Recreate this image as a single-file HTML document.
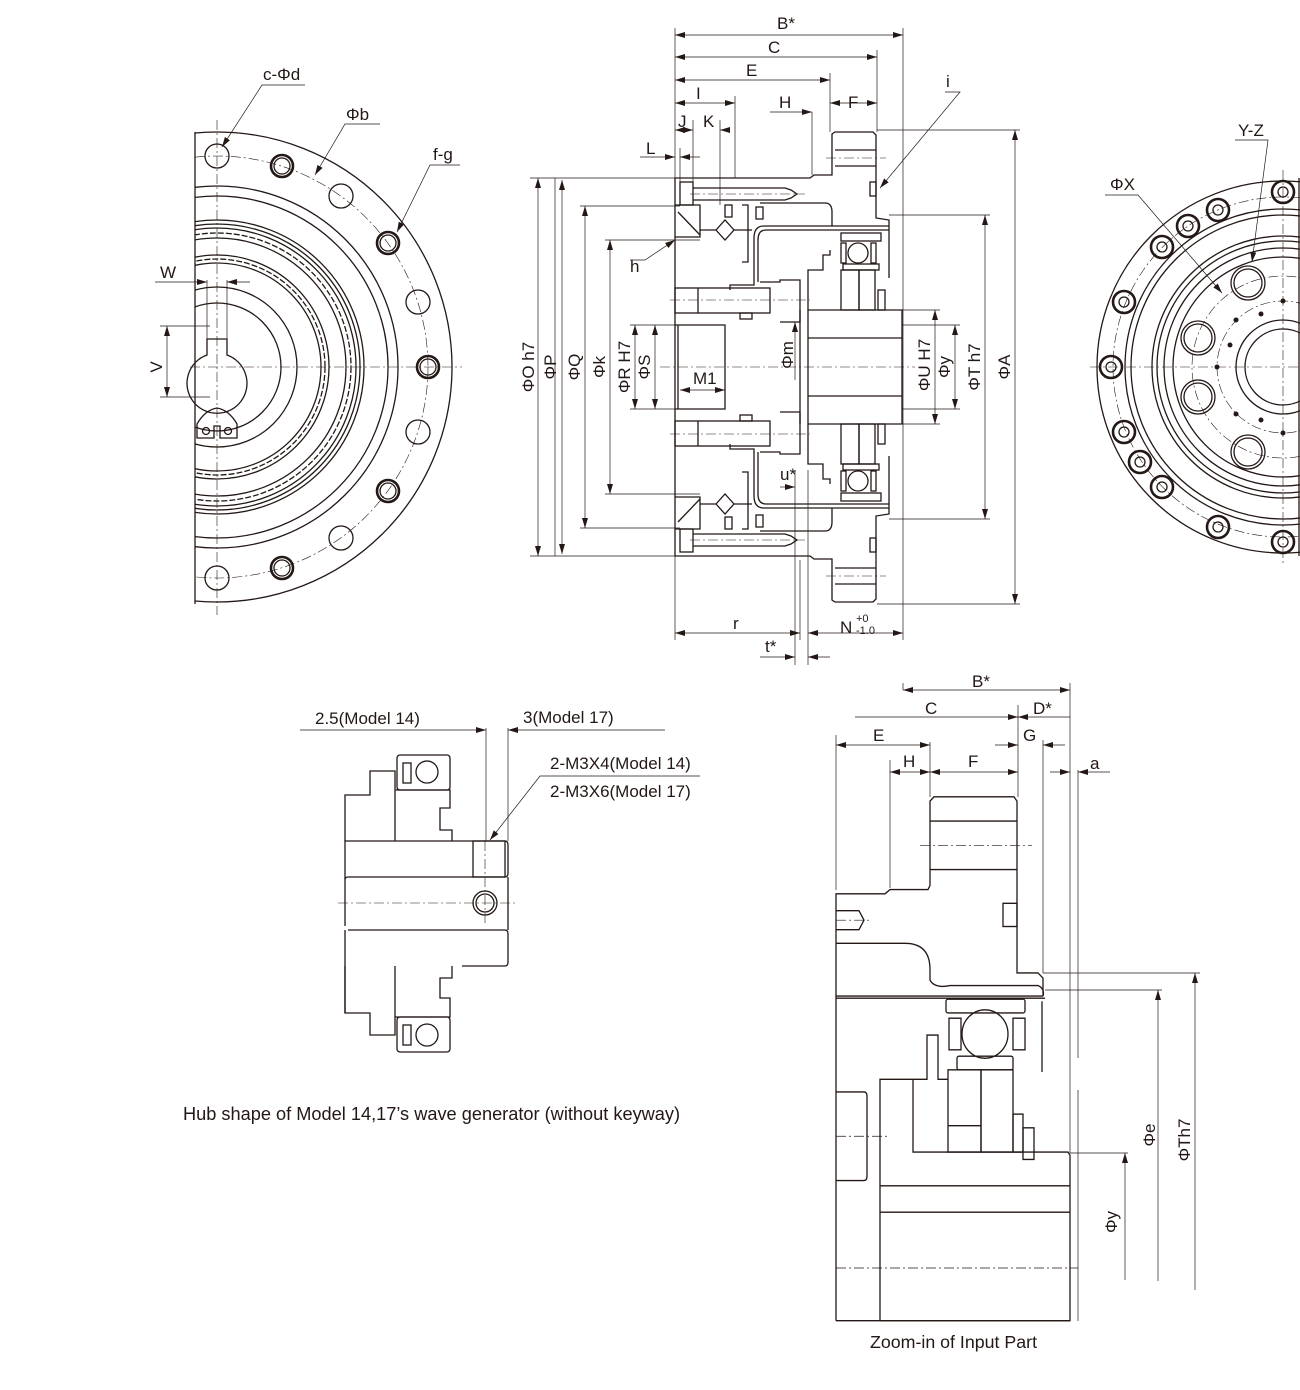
<!DOCTYPE html>
<html><head><meta charset="utf-8"><style>
html,body{margin:0;padding:0;background:#fff;}
svg{display:block;}
text{font-family:"Liberation Sans",sans-serif;font-size:17px;fill:#231815;}
.l{fill:none;stroke:#231815;stroke-width:1.3;}
.t{fill:none;stroke:#231815;stroke-width:2.6;}
.d{fill:none;stroke:#231815;stroke-width:0.7;}
.c{fill:none;stroke:#231815;stroke-width:0.6;stroke-dasharray:10 3 2 3;}
</style></head><body>
<svg width="1300" height="1390" viewBox="0 0 1300 1390" xmlns="http://www.w3.org/2000/svg">
<defs>
<marker id="a" viewBox="0 0 10 6" refX="10" refY="3" markerWidth="10" markerHeight="6" orient="auto-start-reverse" markerUnits="userSpaceOnUse"><path d="M0,0 L10,3 L0,6 z" fill="#231815"/></marker>
<clipPath id="cl"><rect x="195" y="100" width="300" height="540"/></clipPath>
<clipPath id="cr"><rect x="1080" y="100" width="220" height="540"/></clipPath>
</defs>

<!-- ============ LEFT VIEW ============ -->
<g clip-path="url(#cl)">
<circle class="l" cx="217" cy="367" r="235"/>
<circle class="c" cx="217" cy="367" r="211"/>
<circle class="l" cx="217" cy="367" r="181"/>
<circle class="l" cx="217" cy="367" r="171"/>
<circle class="l" cx="217" cy="367" r="147"/>
<circle class="l" cx="217" cy="367" r="143"/>
<circle class="l" cx="217" cy="367" r="139"/>
<circle class="l" cx="217" cy="367" r="134" stroke-dasharray="6 2"/>
<circle class="l" cx="217" cy="367" r="129"/>
<circle class="l" cx="217" cy="367" r="112"/>
<circle class="l" cx="217" cy="367" r="108" stroke-dasharray="6 2"/>
<circle class="l" cx="217" cy="367" r="104"/>
<circle class="l" cx="217" cy="367" r="80"/>
<circle class="l" cx="217" cy="367" r="64"/>
</g>
<line class="l" x1="195" y1="132" x2="195" y2="604"/>
<g>
<circle class="l" cx="217" cy="156" r="12"/>
<circle class="t" cx="282" cy="166" r="11"/><circle class="l" cx="282" cy="166" r="8"/>
<circle class="l" cx="341" cy="196" r="12"/>
<circle class="t" cx="388" cy="243" r="11"/><circle class="l" cx="388" cy="243" r="8"/>
<circle class="l" cx="418" cy="302" r="12"/>
<circle class="t" cx="428" cy="367" r="11"/><circle class="l" cx="428" cy="367" r="8"/>
<circle class="l" cx="418" cy="432" r="12"/>
<circle class="t" cx="388" cy="491" r="11"/><circle class="l" cx="388" cy="491" r="8"/>
<circle class="l" cx="341" cy="538" r="12"/>
<circle class="t" cx="282" cy="568" r="11"/><circle class="l" cx="282" cy="568" r="8"/>
<circle class="l" cx="217" cy="578" r="12"/>
</g>
<path class="l" d="M227,355 L227,339 L207,339 L207,355 A30,30 0 1 0 227,355 Z" fill="#fff"/>
<path class="l" d="M197,424 Q205,410 217,408 Q229,410 237,424 L237,438 L220,438 L220,426 L214,426 L214,438 L197,438 Z"/>
<circle class="l" cx="206" cy="431" r="3.5"/><circle class="l" cx="228" cy="431" r="3.5"/>
<line class="c" x1="217" y1="120" x2="217" y2="615"/>
<line class="c" x1="190" y1="367" x2="462" y2="367"/>
<line class="d" x1="207" y1="280" x2="207" y2="339"/><line class="d" x1="227" y1="280" x2="227" y2="339"/>
<line class="d" x1="155" y1="282" x2="207" y2="282" marker-end="url(#a)"/><line class="d" x1="250" y1="282" x2="227" y2="282" marker-end="url(#a)"/>
<text x="160" y="278">W</text>
<line class="d" x1="160" y1="326" x2="210" y2="326"/><line class="d" x1="160" y1="397" x2="210" y2="397"/>
<line class="d" x1="167" y1="326" x2="167" y2="397" marker-start="url(#a)" marker-end="url(#a)"/>
<text transform="translate(162,367) rotate(-90)" text-anchor="middle">V</text>
<polyline class="d" points="305,85 262,85 222,147" marker-end="url(#a)"/><text x="263" y="80">c-Φd</text>
<polyline class="d" points="380,124 345,124 315,175" marker-end="url(#a)"/><text x="346" y="120">Φb</text>
<polyline class="d" points="460,165 430,165 397,232" marker-end="url(#a)"/><text x="433" y="160">f-g</text>

<!-- ============ RIGHT VIEW ============ -->
<g clip-path="url(#cr)">
<circle class="l" cx="1283" cy="367" r="186"/>
<circle class="c" cx="1283" cy="367" r="170"/>
<circle class="l" cx="1283" cy="367" r="158"/>
<circle class="l" cx="1283" cy="367" r="152"/>
<circle class="l" cx="1283" cy="367" r="131"/>
<circle class="l" cx="1283" cy="367" r="126"/>
<circle class="l" cx="1283" cy="367" r="119"/>
<circle class="l" cx="1283" cy="367" r="110"/>
<circle class="c" cx="1283" cy="367" r="91"/>
<circle class="c" cx="1283" cy="367" r="66"/>
<circle class="l" cx="1283" cy="367" r="47"/>
<circle class="l" cx="1283" cy="367" r="38"/>
</g>
<line class="l" x1="1299" y1="178" x2="1299" y2="556"/>
<g>
<circle class="t" cx="1283" cy="192" r="11"/><circle class="l" cx="1283" cy="192" r="5"/>
<circle class="t" cx="1218" cy="210" r="11"/><circle class="l" cx="1218" cy="210" r="5"/>
<circle class="t" cx="1188" cy="226" r="11"/><circle class="l" cx="1188" cy="226" r="5"/>
<circle class="t" cx="1162" cy="247" r="11"/><circle class="l" cx="1162" cy="247" r="5"/>
<circle class="t" cx="1124" cy="302" r="11"/><circle class="l" cx="1124" cy="302" r="5"/>
<circle class="t" cx="1111" cy="367" r="11"/><circle class="l" cx="1111" cy="367" r="5"/>
<circle class="t" cx="1124" cy="432" r="11"/><circle class="l" cx="1124" cy="432" r="5"/>
<circle class="t" cx="1140" cy="462" r="11"/><circle class="l" cx="1140" cy="462" r="5"/>
<circle class="t" cx="1162" cy="487" r="11"/><circle class="l" cx="1162" cy="487" r="5"/>
<circle class="t" cx="1218" cy="527" r="11"/><circle class="l" cx="1218" cy="527" r="5"/>
<circle class="t" cx="1283" cy="542" r="11"/><circle class="l" cx="1283" cy="542" r="5"/>
</g>
<g>
<circle class="l" cx="1248" cy="283" r="17"/><circle class="l" cx="1248" cy="283" r="14"/>
<circle class="l" cx="1198" cy="338" r="17"/><circle class="l" cx="1198" cy="338" r="14"/>
<circle class="l" cx="1198" cy="397" r="17"/><circle class="l" cx="1198" cy="397" r="14"/>
<circle class="l" cx="1248" cy="452" r="17"/><circle class="l" cx="1248" cy="452" r="14"/>
<circle cx="1283" cy="301" r="2.5" fill="#231815"/><circle cx="1261" cy="314" r="2.5" fill="#231815"/>
<circle cx="1236" cy="320" r="2.5" fill="#231815"/><circle cx="1230" cy="345" r="2.5" fill="#231815"/>
<circle cx="1217" cy="367" r="2.5" fill="#231815"/><circle cx="1236" cy="414" r="2.5" fill="#231815"/>
<circle cx="1261" cy="420" r="2.5" fill="#231815"/><circle cx="1283" cy="433" r="2.5" fill="#231815"/>
</g>
<line class="c" x1="1283" y1="170" x2="1283" y2="565"/>
<line class="c" x1="1090" y1="367" x2="1300" y2="367"/>
<polyline class="d" points="1235,140 1268,140 1252,262" marker-end="url(#a)"/><text x="1238" y="136">Y-Z</text>
<polyline class="d" points="1105,195 1138,195 1222,293" marker-end="url(#a)"/><text x="1110" y="190">ΦX</text>

<!-- ============ MIDDLE SECTION ============ -->
<g id="half">
<path class="l" d="M675,367 L675,178 L810,178 L814,175 L832,175 L832,134 L835,132 L873,132 L876,135 L876,218 L889,220 L889,228"/>
<line class="l" x1="835" y1="150" x2="876" y2="150"/>
<line class="l" x1="835" y1="166" x2="876" y2="166"/>
<line class="c" x1="826" y1="158" x2="886" y2="158"/>
<rect class="l" x="870" y="182" width="6" height="14"/>
<rect class="l" x="680" y="182" width="13" height="23"/>
<path class="l" d="M693,188 L785,188 L791,190 L797,194 L791,198 L785,200 L693,200"/>
<line class="c" x1="690" y1="194" x2="805" y2="194"/>
<path class="l" d="M675,205 L700,205 L700,237 L675,237"/>
<line class="l" x1="678" y1="212" x2="700" y2="235"/>
<path class="l" d="M716,230 L725,220 L734,230 L725,240 Z"/>
<path class="l" d="M700,230 L716,230 M734,230 L752,230"/>
<rect class="l" x="725" y="205" width="7" height="12"/><rect class="l" x="756" y="207" width="7" height="12"/>
<path class="l" d="M742,205 L748,205 L748,262 L742,262"/>
<path class="l" d="M760,203 L825,203 Q832,203 832,212 L832,226"/>
<path class="l" d="M889,226 L764,226 Q754,226 754,238 L754,285 L730,285 L730,290"/>
<path class="l" d="M889,230 L766,230 Q758,230 758,240 L758,282"/>
<path class="l" d="M760,282 L780,282 L780,280 L800,280 L800,322 L780,322"/>
<rect class="l" x="675" y="288" width="95" height="25"/>
<line class="l" x1="698" y1="288" x2="698" y2="313"/>
<line class="c" x1="670" y1="300" x2="810" y2="300"/>
<rect class="l" x="740" y="313" width="12" height="6"/>
<path class="l" d="M675,325 L725,325 L725,367"/>
<line class="l" x1="678" y1="325" x2="678" y2="367"/>
<path class="l" d="M808,367 L808,310 L902,310 L902,367"/>
<line class="l" x1="808" y1="338" x2="902" y2="338"/>
<path class="l" d="M808,310 L808,270 L823,270 L823,255 L830,255 L830,250"/>
<rect class="l" x="841" y="233" width="40" height="8"/>
<circle class="l" cx="858" cy="253" r="10"/>
<rect class="l" x="841" y="243" width="5" height="20"/><rect class="l" x="871" y="243" width="5" height="20"/>
<rect class="l" x="843" y="264" width="36" height="6"/>
<rect class="l" x="841" y="270" width="18" height="40"/>
<rect class="l" x="859" y="270" width="16" height="40"/>
<rect class="l" x="878" y="290" width="7" height="20"/>
<line class="l" x1="889" y1="228" x2="889" y2="278"/>
<line class="l" x1="800" y1="310" x2="800" y2="367"/>
</g>
<use href="#half" transform="translate(0,734) scale(1,-1)"/>
<line class="c" x1="660" y1="367" x2="915" y2="367"/>
<g class="d">
<line x1="675" y1="28" x2="675" y2="640"/>
<line x1="903" y1="28" x2="903" y2="640"/>
<line x1="877" y1="50" x2="877" y2="132"/>
<line x1="830" y1="73" x2="830" y2="132"/>
<line x1="735" y1="96" x2="735" y2="178"/>
<line x1="812" y1="112" x2="812" y2="175"/>
<line x1="693" y1="120" x2="693" y2="182"/>
<line x1="720" y1="120" x2="720" y2="205"/>
<line x1="680" y1="148" x2="680" y2="182"/>
<line x1="795" y1="470" x2="795" y2="665"/>
<line x1="808" y1="470" x2="808" y2="665"/>
<line x1="800" y1="560" x2="800" y2="640"/>
</g>
<g class="d">
<line x1="675" y1="35" x2="903" y2="35" marker-start="url(#a)" marker-end="url(#a)"/>
<line x1="675" y1="57" x2="877" y2="57" marker-start="url(#a)" marker-end="url(#a)"/>
<line x1="675" y1="80" x2="830" y2="80" marker-start="url(#a)" marker-end="url(#a)"/>
<line x1="675" y1="103" x2="735" y2="103" marker-start="url(#a)" marker-end="url(#a)"/>
<line x1="830" y1="103" x2="877" y2="103" marker-start="url(#a)" marker-end="url(#a)"/>
<line x1="770" y1="112" x2="812" y2="112" marker-end="url(#a)"/>
<line x1="675" y1="130" x2="693" y2="130" marker-start="url(#a)" marker-end="url(#a)"/>
<line x1="730" y1="130" x2="720" y2="130" marker-end="url(#a)"/>
<line x1="640" y1="157" x2="675" y2="157" marker-end="url(#a)"/>
<line x1="700" y1="157" x2="680" y2="157" marker-end="url(#a)"/>
<line x1="675" y1="633" x2="800" y2="633" marker-start="url(#a)" marker-end="url(#a)"/>
<line x1="808" y1="633" x2="903" y2="633" marker-start="url(#a)" marker-end="url(#a)"/>
<line x1="760" y1="657" x2="795" y2="657" marker-end="url(#a)"/>
<line x1="830" y1="657" x2="808" y2="657" marker-end="url(#a)"/>
<line x1="780" y1="487" x2="795" y2="487" marker-end="url(#a)"/>
<polyline points="945,92 960,92 880,188" marker-end="url(#a)"/>
<polyline points="630,260 645,260 675,240" marker-end="url(#a)"/>
<line x1="795" y1="322" x2="795" y2="380" marker-start="url(#a)"/>
</g>
<g class="d">
<line x1="530" y1="178" x2="675" y2="178"/><line x1="530" y1="556" x2="675" y2="556"/>
<line x1="538" y1="178" x2="538" y2="556" marker-start="url(#a)" marker-end="url(#a)"/>
<line x1="555" y1="178" x2="555" y2="556"/>
<line x1="562" y1="180" x2="562" y2="554" marker-start="url(#a)" marker-end="url(#a)"/>
<line x1="580" y1="206" x2="680" y2="206"/><line x1="580" y1="528" x2="680" y2="528"/>
<line x1="585" y1="206" x2="585" y2="528" marker-start="url(#a)" marker-end="url(#a)"/>
<line x1="605" y1="240" x2="700" y2="240"/><line x1="605" y1="494" x2="700" y2="494"/>
<line x1="610" y1="240" x2="610" y2="494" marker-start="url(#a)" marker-end="url(#a)"/>
<line x1="630" y1="325" x2="675" y2="325"/><line x1="630" y1="409" x2="675" y2="409"/>
<line x1="635" y1="325" x2="635" y2="409" marker-start="url(#a)" marker-end="url(#a)"/>
<line x1="655" y1="325" x2="655" y2="409" marker-start="url(#a)" marker-end="url(#a)"/>
<line x1="680" y1="390" x2="725" y2="390" marker-start="url(#a)" marker-end="url(#a)"/>
<line x1="902" y1="310" x2="940" y2="310"/><line x1="902" y1="424" x2="940" y2="424"/>
<line x1="935" y1="310" x2="935" y2="424" marker-start="url(#a)" marker-end="url(#a)"/>
<line x1="902" y1="325" x2="960" y2="325"/><line x1="902" y1="409" x2="960" y2="409"/>
<line x1="955" y1="325" x2="955" y2="409" marker-start="url(#a)" marker-end="url(#a)"/>
<line x1="889" y1="215" x2="990" y2="215"/><line x1="889" y1="519" x2="990" y2="519"/>
<line x1="985" y1="215" x2="985" y2="519" marker-start="url(#a)" marker-end="url(#a)"/>
<line x1="877" y1="130" x2="1020" y2="130"/><line x1="877" y1="604" x2="1020" y2="604"/>
<line x1="1015" y1="130" x2="1015" y2="604" marker-start="url(#a)" marker-end="url(#a)"/>
</g>
<text x="777" y="29">B*</text><text x="768" y="53">C</text><text x="746" y="76">E</text>
<text x="696" y="99">I</text><text x="779" y="108">H</text><text x="848" y="108">F</text>
<text x="678" y="127">J</text><text x="703" y="127">K</text><text x="646" y="154">L</text>
<text x="946" y="87">i</text><text x="630" y="272">h</text>
<text x="693" y="384">M1</text><text x="780" y="480">u*</text>
<text x="733" y="629">r</text><text x="765" y="652">t*</text>
<text x="840" y="633">N</text><text x="856" y="622" style="font-size:11px">+0</text><text x="856" y="634" style="font-size:11px">-1.0</text>
<text transform="translate(534,367) rotate(-90)" text-anchor="middle">ΦO h7</text>
<text transform="translate(556,367) rotate(-90)" text-anchor="middle">ΦP</text>
<text transform="translate(580,367) rotate(-90)" text-anchor="middle">ΦQ</text>
<text transform="translate(605,367) rotate(-90)" text-anchor="middle">Φk</text>
<text transform="translate(630,367) rotate(-90)" text-anchor="middle">ΦR H7</text>
<text transform="translate(650,367) rotate(-90)" text-anchor="middle">ΦS</text>
<text transform="translate(793,355) rotate(-90)" text-anchor="middle">Φm</text>
<text transform="translate(930,365) rotate(-90)" text-anchor="middle">ΦU H7</text>
<text transform="translate(950,367) rotate(-90)" text-anchor="middle">Φy</text>
<text transform="translate(980,367) rotate(-90)" text-anchor="middle">ΦT h7</text>
<text transform="translate(1010,367) rotate(-90)" text-anchor="middle">ΦA</text>

<!-- ============ HUB ============ -->
<g>
<path class="l" d="M345,841 L505,841 Q508,841 508,845 L508,873 Q508,877 505,877 L348,877 Q345,877 345,880 Z"/>
<path class="l" d="M345,880 L345,926 M508,877 L508,930"/>
<path class="l" d="M348,930 L505,930 Q508,930 508,934 L508,962 Q508,966 505,966 L462,966"/>
<path class="l" d="M345,930 L345,1013"/>
<rect class="l" x="473" y="841" width="32" height="36"/>
<circle class="l" cx="485" cy="903" r="12"/><circle class="l" cx="485" cy="903" r="9"/>
<line class="c" x1="338" y1="903" x2="515" y2="903"/>
<line class="c" x1="485" y1="841" x2="485" y2="925"/>
<path class="l" d="M345,841 L345,795 L370,795 L370,771 L395,771 L395,841"/>
<rect class="l" x="397" y="755" width="53" height="35" rx="3"/>
<circle class="l" cx="427" cy="772" r="11"/>
<rect class="l" x="403" y="763" width="8" height="20"/>
<path class="l" d="M395,790 L450,790 L450,808 L440,808 L440,830 L452,830 L452,841"/>
<path class="l" d="M345,966 L345,1013 L370,1013 L370,1035 L395,1035 L395,966"/>
<rect class="l" x="397" y="1017" width="53" height="35" rx="3"/>
<circle class="l" cx="427" cy="1035" r="11"/>
<rect class="l" x="403" y="1025" width="8" height="20"/>
<path class="l" d="M395,1017 L450,1017 L450,998 L440,998 L440,978 L452,978 L452,966"/>
</g>
<g class="d">
<line x1="486" y1="728" x2="486" y2="841"/><line x1="508" y1="728" x2="508" y2="841"/>
<line x1="300" y1="730" x2="486" y2="730" marker-end="url(#a)"/>
<line x1="665" y1="730" x2="508" y2="730" marker-end="url(#a)"/>
<polyline points="700,776 540,776 490,840" marker-end="url(#a)"/>
</g>
<text x="315" y="724">2.5(Model 14)</text>
<text x="523" y="723">3(Model 17)</text>
<text x="550" y="769">2-M3X4(Model 14)</text>
<text x="550" y="797">2-M3X6(Model 17)</text>
<text x="183" y="1120" style="font-size:18.2px">Hub shape of Model 14,17’s wave generator (without keyway)</text>

<!-- ============ ZOOM-IN ============ -->
<g transform="translate(0,780) scale(1,1.054) translate(0,-780)">
<path class="l" d="M836,1293 L836,888 L885,888 L890,884 L928,884 L930,880 L930,800 L934,796 L1014,796 L1017,800 L1017,963 L1038,963 L1043,968 L1043,985"/>
<line class="l" x1="930" y1="819" x2="1017" y2="819"/>
<line class="l" x1="930" y1="865" x2="1017" y2="865"/>
<line class="c" x1="920" y1="842" x2="1032" y2="842"/>
<rect class="l" x="1003" y="897" width="14" height="22"/>
<path class="l" d="M836,904 L859,904 L864,913 L859,922 L836,922"/>
<line class="c" x1="836" y1="913" x2="872" y2="913"/>
<path class="l" d="M836,935 L905,935 Q930,935 930,960 L930,970 Q935,978 950,975 L1038,975 Q1045,978 1043,985"/>
<line class="l" x1="836" y1="985" x2="1043" y2="985"/>
<line class="l" x1="836" y1="987" x2="1045" y2="987"/>
<rect class="l" x="946" y="988" width="79" height="13" rx="2"/>
<circle class="l" cx="985" cy="1021" r="23"/>
<rect class="l" x="949" y="1006" width="12" height="30"/><rect class="l" x="1013" y="1006" width="12" height="30"/>
<rect class="l" x="957" y="1042" width="56" height="13" rx="2"/>
<rect class="l" x="948" y="1055" width="33" height="78"/>
<rect class="l" x="981" y="1055" width="32" height="78"/>
<line class="l" x1="948" y1="1108" x2="981" y2="1108"/>
<rect class="l" x="1013" y="1097" width="10" height="36"/>
<rect class="l" x="1023" y="1110" width="11" height="30"/>
<path class="l" d="M880,1293 L880,1064 L913,1064 L913,1133 L1068,1133 L1070,1136 L1070,1293 Z"/>
<path class="l" d="M913,1064 L927,1064 L927,1022 L938,1022 L938,1064 L948,1064"/>
<line class="l" x1="880" y1="1165" x2="1070" y2="1165"/>
<line class="l" x1="880" y1="1190" x2="1070" y2="1190"/>
<line class="l" x1="836" y1="1293" x2="1070" y2="1293"/>
<path class="l" d="M836,1076 L864,1076 Q867,1076 867,1080 L867,1156 Q867,1160 864,1160 L836,1160"/>
<line class="c" x1="836" y1="1118" x2="890" y2="1118"/>
<line class="c" x1="836" y1="1243" x2="1078" y2="1243"/>
<line class="l" x1="1042" y1="990" x2="1042" y2="1057"/>
</g>
<g class="d">
<line x1="903" y1="683" x2="903" y2="690"/>
<line x1="1070" y1="683" x2="1070" y2="1153"/>
<line x1="1018" y1="705" x2="1018" y2="797"/>
<line x1="836" y1="735" x2="836" y2="890"/>
<line x1="930" y1="742" x2="930" y2="797"/>
<line x1="890" y1="760" x2="890" y2="888"/>
<line x1="1043" y1="740" x2="1043" y2="973"/>
<line x1="1078" y1="770" x2="1078" y2="1058"/>
<line x1="1078" y1="1090" x2="1078" y2="1321"/>
<line x1="903" y1="690" x2="1070" y2="690" marker-start="url(#a)" marker-end="url(#a)"/>
<line x1="855" y1="717" x2="1018" y2="717" marker-end="url(#a)"/>
<line x1="1070" y1="717" x2="1018" y2="717" marker-end="url(#a)"/>
<line x1="836" y1="745" x2="930" y2="745" marker-start="url(#a)" marker-end="url(#a)"/>
<line x1="995" y1="745" x2="1018" y2="745" marker-end="url(#a)"/>
<line x1="1065" y1="745" x2="1043" y2="745" marker-end="url(#a)"/>
<line x1="890" y1="772" x2="930" y2="772" marker-start="url(#a)" marker-end="url(#a)"/>
<line x1="930" y1="772" x2="1018" y2="772" marker-start="url(#a)" marker-end="url(#a)"/>
<line x1="1050" y1="772" x2="1070" y2="772" marker-end="url(#a)"/>
<line x1="1110" y1="772" x2="1078" y2="772" marker-end="url(#a)"/>
<line x1="1043" y1="973" x2="1200" y2="973"/>
<line x1="1045" y1="990" x2="1162" y2="990"/>
<line x1="1070" y1="1153" x2="1128" y2="1153"/>
<line x1="1195" y1="1290" x2="1195" y2="973" marker-end="url(#a)"/>
<line x1="1158" y1="1281" x2="1158" y2="990" marker-end="url(#a)"/>
<line x1="1125" y1="1280" x2="1125" y2="1153" marker-end="url(#a)"/>
</g>
<text x="972" y="687">B*</text><text x="925" y="714">C</text><text x="1033" y="714">D*</text>
<text x="873" y="741">E</text><text x="1023" y="741">G</text>
<text x="903" y="767">H</text><text x="968" y="767">F</text><text x="1090" y="769">a</text>
<text transform="translate(1117,1222) rotate(-90)" text-anchor="middle">Φy</text>
<text transform="translate(1155,1135) rotate(-90)" text-anchor="middle">Φe</text>
<text transform="translate(1190,1140) rotate(-90)" text-anchor="middle">ΦTh7</text>
<text x="870" y="1348" style="font-size:17.8px">Zoom-in of Input Part</text>
</svg>
</body></html>
